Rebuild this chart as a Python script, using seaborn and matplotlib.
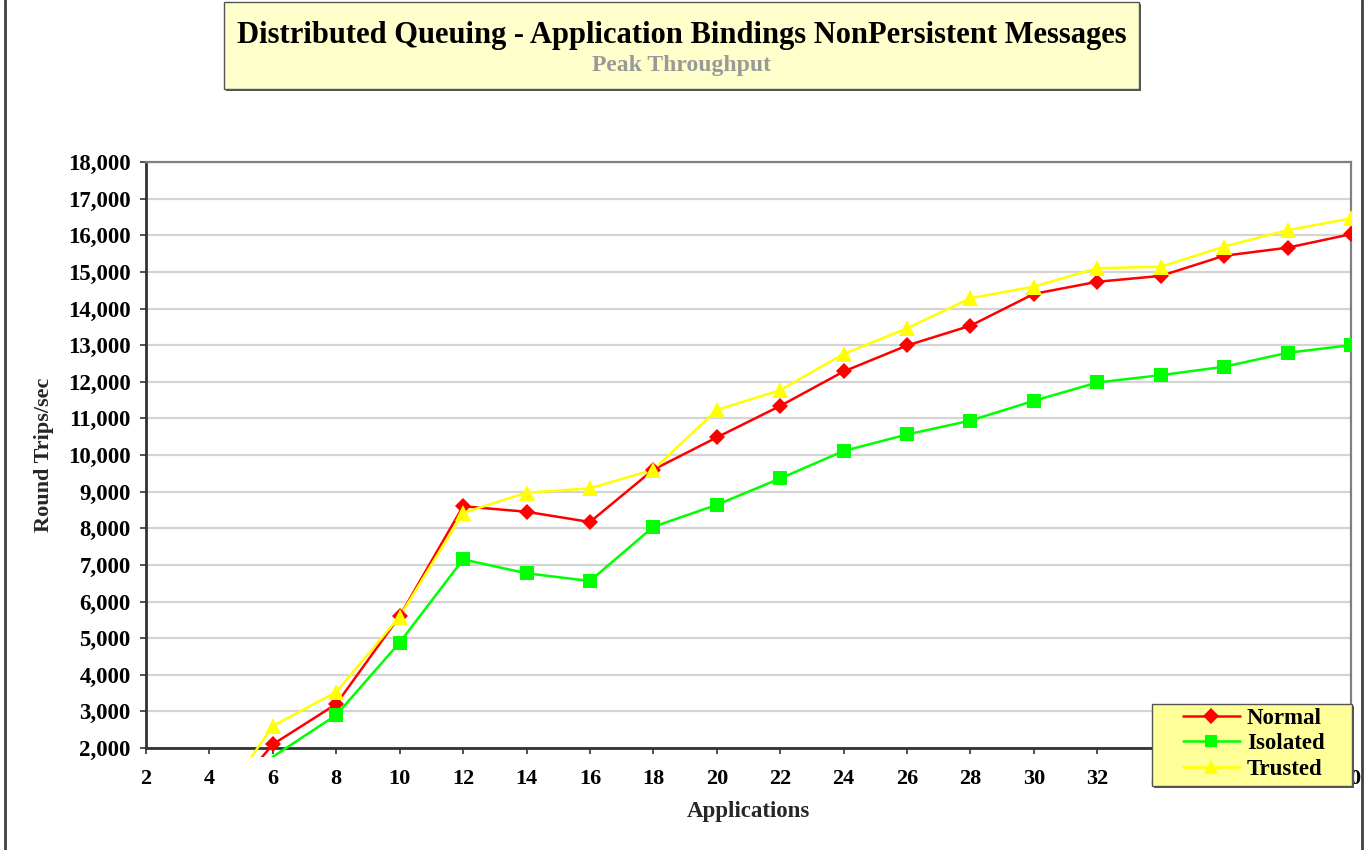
import matplotlib
matplotlib.use("Agg")
import matplotlib.pyplot as plt
import numpy as np
import pandas as pd
import seaborn as sns
from matplotlib.lines import Line2D
from matplotlib.patches import Rectangle
from matplotlib.transforms import Bbox, TransformedBbox
from matplotlib.ticker import FuncFormatter, MultipleLocator

# ---- data -------------------------------------------------------------
applications = [4, 6, 8, 10, 12, 14, 16, 18, 20, 22, 24, 26, 28, 30, 32, 34, 36, 38, 40]
normal = [50, 2100, 3200, 5600, 8600, 8450, 8170, 9600, 10480, 11340, 12280,
          12990, 13530, 14400, 14730, 14890, 15440, 15660, 16030]
isolated = [0, 1760, 2900, 4880, 7150, 6770, 6560, 8040, 8640, 9360, 10110,
            10560, 10940, 11480, 11980, 12180, 12410, 12790, 13000]
trusted = [100, 2600, 3530, 5590, 8420, 8970, 9090, 9600, 11230, 11770, 12760,
           13460, 14280, 14600, 15100, 15140, 15690, 16140, 16460]

series_names = ["Normal", "Isolated", "Trusted"]
x_ticks = list(range(2, 41, 2))

title = "Distributed Queuing - Application Bindings NonPersistent Messages"
subtitle = "Peak Throughput"
x_label = "Applications"
y_label = "Round Trips/sec"

# ---- styling ----------------------------------------------------------
colors = {"Normal": "#FF0000", "Isolated": "#00FF00", "Trusted": "#FFFF00"}
markers = {"Normal": "D", "Isolated": "s", "Trusted": "^"}
msize = {"Normal": 8.5, "Isolated": 10.0, "Trusted": 11.5}

sns.set_theme(style="white")
plt.rcParams["font.family"] = ["Liberation Serif", "DejaVu Serif"]
plt.rcParams["font.weight"] = "bold"

W, H = 1367, 850
fig = plt.figure(figsize=(W / 100, H / 100), dpi=100)


def fx(px):
    return px / W


def fy(py):
    return 1 - py / H


ax = fig.add_axes([fx(146), fy(748), fx(1351) - fx(146), fy(162) - fy(748)])

df = pd.DataFrame({
    "Applications": applications * 3,
    "Value": normal + isolated + trusted,
    "Series": np.repeat(series_names, len(applications)),
})

sns.lineplot(data=df, x="Applications", y="Value", hue="Series",
             palette=colors, hue_order=series_names, linewidth=1.8,
             sort=False, legend=False, ax=ax, zorder=3)

for name in series_names:
    sub = df[(df["Series"] == name) & (df["Value"] >= 2000)]
    ax.plot(sub["Applications"], sub["Value"], linestyle="none",
            marker=markers[name], markersize=msize[name],
            color=colors[name], markeredgewidth=0, zorder=4)

ax.set_xlim(2, 40)
ax.set_ylim(2000, 18000)
ax.set_xticks(x_ticks)
ax.yaxis.set_major_locator(MultipleLocator(1000))
ax.yaxis.set_major_formatter(FuncFormatter(lambda v, p: f"{int(v):,}"))

# plot area lets lines run slightly past the bottom axis
ext = TransformedBbox(Bbox([[-0.01, -0.016], [1.0, 1.0]]), ax.transAxes)
for art in list(ax.lines):
    art.set_clip_path(None)
    art.set_clip_box(ext)

ax.yaxis.grid(True, color="#d4d4d4", linewidth=1.6)
ax.xaxis.grid(False)
ax.set_axisbelow(True)

for side in ("left", "bottom"):
    ax.spines[side].set_color("#333333")
    ax.spines[side].set_linewidth(2.0)
for side in ("top", "right"):
    ax.spines[side].set_color("#808080")
    ax.spines[side].set_linewidth(1.6)

ax.tick_params(axis="both", which="major", direction="out", length=4,
               width=1.2, color="#333333", labelcolor="black")
ax.tick_params(axis="x", pad=11, bottom=True, labelsize=16)
ax.tick_params(axis="y", pad=7, left=True, labelsize=16.5)
for lab in ax.get_xticklabels() + ax.get_yticklabels():
    lab.set_fontweight("bold")

ax.set_xlabel(x_label, fontsize=16.5, fontweight="bold", labelpad=9)
ax.set_ylabel(y_label, fontsize=16, fontweight="bold", labelpad=10)

# ---- outer border ------------------------------------------------------
for xpx in (5, 1362):
    fig.add_artist(Line2D([fx(xpx), fx(xpx)], [0, 1], color="#404040",
                          linewidth=2, transform=fig.transFigure))

# ---- title box ---------------------------------------------------------
fig.add_artist(Rectangle((fx(226), fy(91)), fx(1141) - fx(226), fy(4) - fy(91),
                         transform=fig.transFigure, facecolor="#555555",
                         edgecolor="none", zorder=4))
fig.add_artist(Rectangle((fx(224), fy(89)), fx(1139) - fx(224), fy(2) - fy(89),
                         transform=fig.transFigure, facecolor="#FFFFCC",
                         edgecolor="#555555", linewidth=1, zorder=4))
fig.text(fx(682), fy(35), title, ha="center", va="center", fontsize=22,
         fontweight="bold", color="black", zorder=5)
fig.text(fx(682), fy(66), subtitle, ha="center", va="center", fontsize=17,
         fontweight="bold", color="#999999", zorder=5)

# ---- legend ------------------------------------------------------------
fig.add_artist(Rectangle((fx(1154), fy(788)), fx(1354) - fx(1154), fy(706) - fy(788),
                         transform=fig.transFigure, facecolor="#555555",
                         edgecolor="none", zorder=6))
fig.add_artist(Rectangle((fx(1152), fy(786)), fx(1352) - fx(1152), fy(704) - fy(786),
                         transform=fig.transFigure, facecolor="#FFFF99",
                         edgecolor="#555555", linewidth=1, zorder=6))
handles = [Line2D([], [], color=colors[n], marker=markers[n],
                  markersize=msize[n] * 0.9, markeredgewidth=0, linewidth=1.8)
           for n in series_names]
leg = fig.legend(handles, series_names, loc="upper left",
                 bbox_to_anchor=(fx(1178), fy(703)), frameon=False,
                 fontsize=16.5, handlelength=2.5, handletextpad=0.3,
                 labelspacing=0.2, borderpad=0.2, borderaxespad=0)
leg.set_zorder(7)
for t in leg.get_texts():
    t.set_fontweight("bold")
    t.set_color("black")

fig.savefig("out.png", dpi=100)
